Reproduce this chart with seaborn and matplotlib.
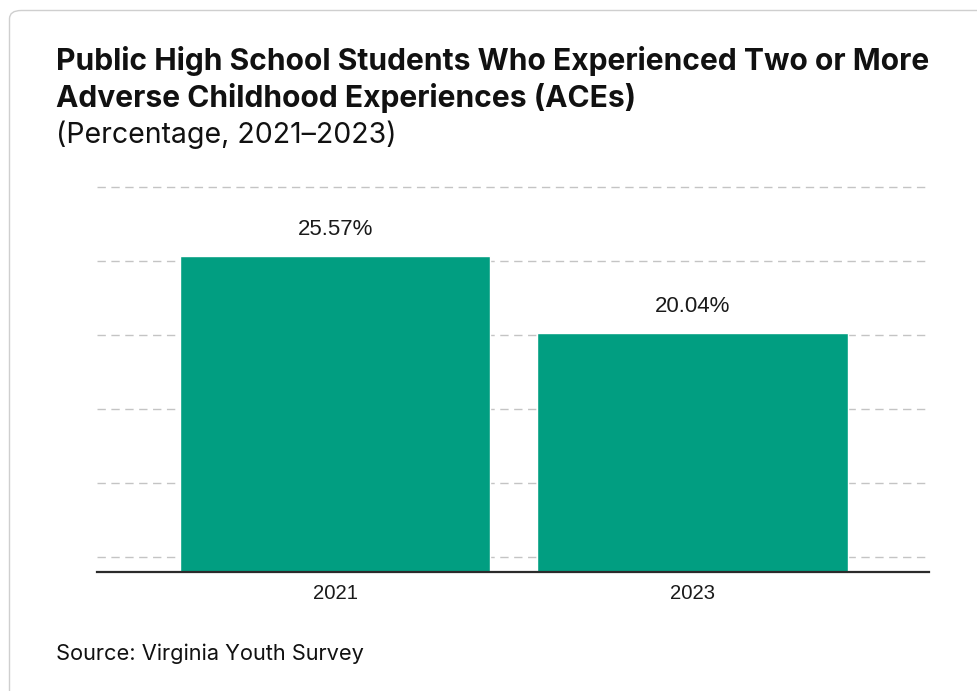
import matplotlib
matplotlib.use("Agg")
import matplotlib.pyplot as plt
from matplotlib.patches import FancyBboxPatch
import numpy as np
import pandas as pd
import seaborn as sns

# Data
years = ["2021", "2023"]
percentages = [25.57, 20.04]
value_labels = ["25.57%", "20.04%"]

title_lines = ["Public High School Students Who Experienced Two or More",
               "Adverse Childhood Experiences (ACEs)"]
subtitle = "(Percentage, 2021\u20132023)"
source = "Source: Virginia Youth Survey"

BAR_COLOR = "#019e81"
GRID_COLOR = "#c4c4c4"

sns.set_theme(style="white")
plt.rcParams["font.family"] = ["Liberation Sans", "DejaVu Sans"]

W, H = 978, 691
fig = plt.figure(figsize=(W / 100, H / 100), dpi=100)
fig.patch.set_facecolor("white")

# Card outline
card = FancyBboxPatch((9.5 / W, -0.05), 1.2, 1.05 - 10.5 / H,
                      boxstyle="round,pad=0,rounding_size=0.012",
                      transform=fig.transFigure, facecolor="none",
                      edgecolor="#cfcfcf", linewidth=1.0, zorder=-5)
fig.patches.append(card)

ax = fig.add_axes([97 / W, (H - 572) / H, (929 - 97) / W, (572 - 187) / H])
ax.set_facecolor("none")
ax.set_zorder(2)

df = pd.DataFrame({"year": years, "pct": percentages})
sns.barplot(data=df, x="year", y="pct", color=BAR_COLOR, saturation=1,
            width=0.868, ax=ax, zorder=3)

y_lo, y_hi = 2.87, 30.53
ax.set_ylim(y_lo, y_hi)
ax.set_xlim(-0.667, 1.662)

# Dashed horizontal guides
step = (y_hi - y_lo) * 74 / 385
for k in range(6):
    yv = y_hi - k * step
    ax.axhline(yv, color=GRID_COLOR, lw=1.0, ls=(0, (6, 4)), zorder=1,
               clip_on=False)

for s in ["top", "right", "left"]:
    ax.spines[s].set_visible(False)
ax.spines["bottom"].set_color("#2b2b2b")
ax.spines["bottom"].set_linewidth(1.6)
ax.spines["bottom"].set_zorder(4)

ax.set_yticks([])
ax.set_xlabel("")
ax.set_ylabel("")
ax.tick_params(axis="x", length=0, pad=8.5, labelsize=14.6, labelcolor="#1a1a1a")

for i, (v, lab) in enumerate(zip(percentages, value_labels)):
    ax.annotate(lab, xy=(i, v), xytext=(0, 18.8), textcoords="offset points",
                ha="center", va="center", fontsize=16, color="#1a1a1a")

txt_font = ["Inter", "DejaVu Sans"]
for j, line in enumerate(title_lines):
    fig.text(56 / W, 1 - (61 + 37 * j) / H, line, ha="left", va="center",
             fontsize=21.6, fontweight="bold", family=txt_font, color="#111111")
fig.text(56 / W, 1 - 135 / H, subtitle, ha="left", va="center",
         fontsize=20.5, family=txt_font, color="#111111")
fig.text(56 / W, 1 - 654 / H, source, ha="left", va="center",
         fontsize=15.7, family=txt_font, color="#111111")

fig.savefig("out.png", dpi=100, facecolor="white")
